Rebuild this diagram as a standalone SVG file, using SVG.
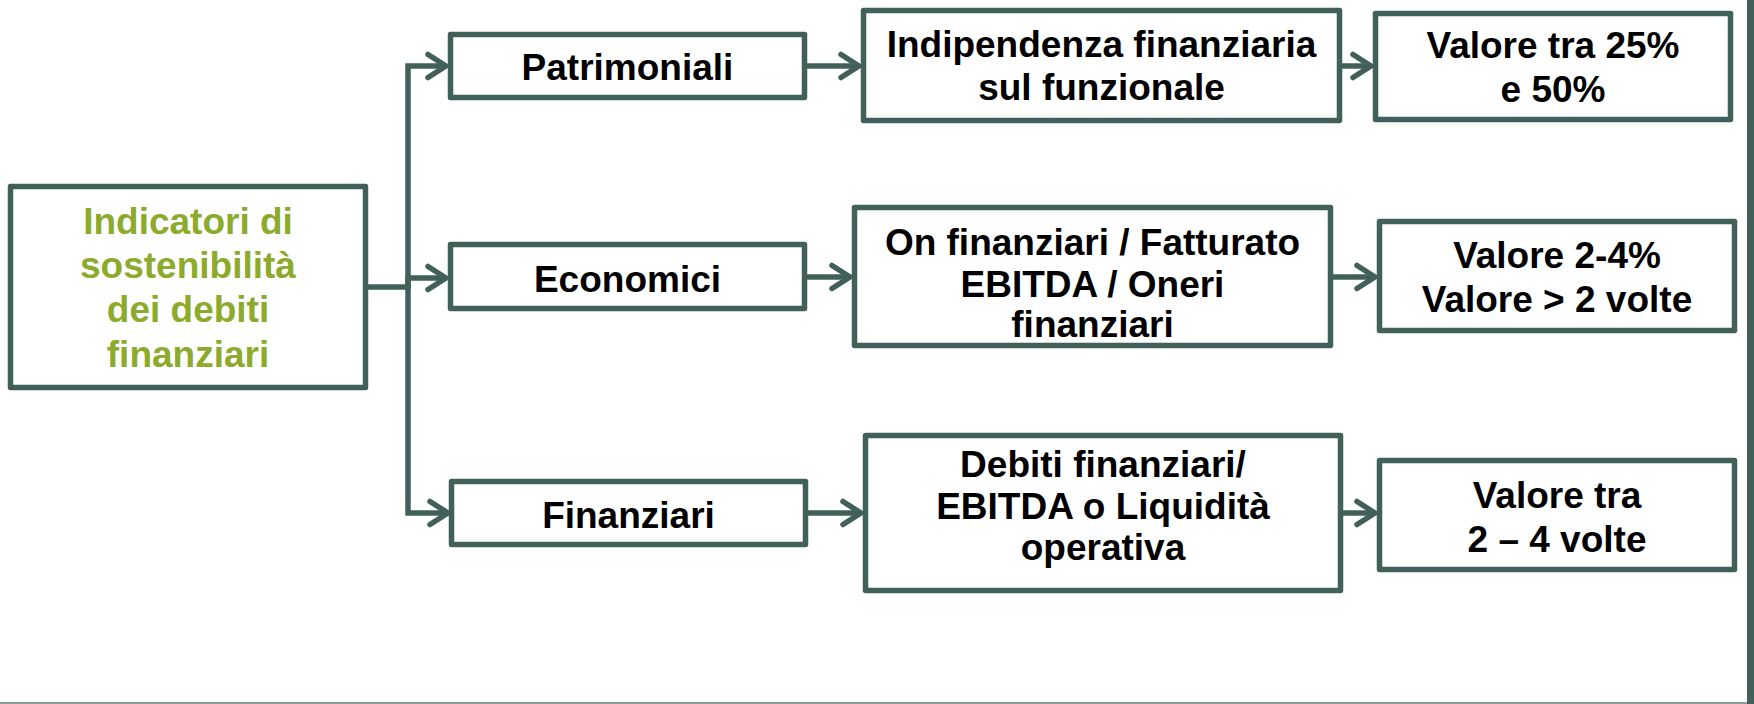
<svg xmlns="http://www.w3.org/2000/svg" width="1754" height="704" viewBox="0 0 1754 704">
  <style>
    .box { fill: #ffffff; stroke: #42605A; stroke-width: 5.5; stroke-linejoin: round; }
    .lbl { font-family: "Liberation Sans", Arial, sans-serif; font-weight: bold; font-size: 37px; fill: #000000; text-anchor: middle; }
    .root { fill: #8CAA2C; }
    .wire { fill: none; stroke: #42605A; stroke-width: 5.5; }
  </style>
  <defs>
    <marker id="arrow" markerUnits="userSpaceOnUse" markerWidth="30" markerHeight="30" viewBox="-25 -15 30 30" refX="0" refY="0" orient="auto" overflow="visible">
      <path d="M-18,-11.5 L0,0 L-18,11.5" fill="none" stroke="#42605A" stroke-width="5.5" stroke-linecap="round" stroke-linejoin="round"/>
    </marker>
  </defs>

  <rect x="0" y="0" width="1754" height="704" fill="#ffffff"/>
  <!-- frame edges -->
  <rect x="1747" y="0" width="7" height="704" fill="#42605A"/>
  <rect x="0" y="702" width="1747" height="2" fill="#8E9D97"/>

  <g id="connectors">
    <path class="wire" d="M368,287 H408 V66 H446" marker-end="url(#arrow)"/>
    <path class="wire" d="M408,287 V278 H446" marker-end="url(#arrow)"/>
    <path class="wire" d="M408,287 V513 H448" marker-end="url(#arrow)"/>
    <path class="wire" d="M807,66 H859" marker-end="url(#arrow)"/>
    <path class="wire" d="M807,277 H850" marker-end="url(#arrow)"/>
    <path class="wire" d="M808,513 H861" marker-end="url(#arrow)"/>
    <path class="wire" d="M1342,66 H1371" marker-end="url(#arrow)"/>
    <path class="wire" d="M1333,277 H1375" marker-end="url(#arrow)"/>
    <path class="wire" d="M1343,513 H1375" marker-end="url(#arrow)"/>
  </g>

  <g id="node-indicatori">
    <rect class="box" x="10.5" y="186.5" width="355" height="201"/>
    <text class="lbl root" x="188" y="234">Indicatori di</text>
    <text class="lbl root" x="188" y="278">sostenibilità</text>
    <text class="lbl root" x="188" y="322">dei debiti</text>
    <text class="lbl root" x="188" y="367">finanziari</text>
  </g>

  <g id="node-patrimoniali">
    <rect class="box" x="450.5" y="34.5" width="354" height="63"/>
    <text class="lbl" x="627.5" y="80">Patrimoniali</text>
  </g>

  <g id="node-economici">
    <rect class="box" x="450.5" y="244.5" width="354" height="64"/>
    <text class="lbl" x="627.5" y="292">Economici</text>
  </g>

  <g id="node-finanziari">
    <rect class="box" x="451.5" y="481.5" width="354" height="63"/>
    <text class="lbl" x="628.5" y="528">Finanziari</text>
  </g>

  <g id="node-indipendenza">
    <rect class="box" x="863.5" y="10.5" width="476" height="110"/>
    <text class="lbl" x="1101.5" y="57">Indipendenza finanziaria</text>
    <text class="lbl" x="1101.5" y="100">sul funzionale</text>
  </g>

  <g id="node-oneri">
    <rect class="box" x="854.5" y="207.5" width="476" height="138"/>
    <text class="lbl" x="1092.5" y="255">On finanziari / Fatturato</text>
    <text class="lbl" x="1092.5" y="297">EBITDA / Oneri</text>
    <text class="lbl" x="1092.5" y="337">finanziari</text>
  </g>

  <g id="node-debiti">
    <rect class="box" x="865.5" y="435.5" width="475" height="155"/>
    <text class="lbl" x="1103" y="477">Debiti finanziari/</text>
    <text class="lbl" x="1103" y="519">EBITDA o Liquidità</text>
    <text class="lbl" x="1103" y="560">operativa</text>
  </g>

  <g id="node-valore-patrimoniali">
    <rect class="box" x="1375.5" y="13.5" width="355" height="106"/>
    <text class="lbl" x="1553" y="58">Valore tra 25%</text>
    <text class="lbl" x="1553" y="102">e 50%</text>
  </g>

  <g id="node-valore-economici">
    <rect class="box" x="1379.5" y="221.5" width="355" height="109"/>
    <text class="lbl" x="1557" y="268">Valore 2-4%</text>
    <text class="lbl" x="1557" y="312">Valore &gt; 2 volte</text>
  </g>

  <g id="node-valore-finanziari">
    <rect class="box" x="1379.5" y="460.5" width="355" height="109"/>
    <text class="lbl" x="1557" y="508">Valore tra</text>
    <text class="lbl" x="1557" y="552">2 – 4 volte</text>
  </g>
</svg>
